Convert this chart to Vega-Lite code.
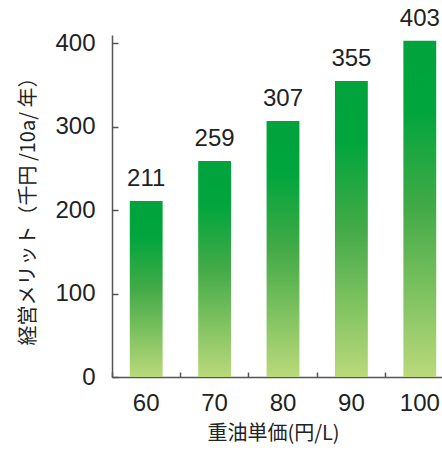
{
  "$schema": "https://vega.github.io/schema/vega-lite/v6.json",
  "autosize": {"type": "none"},
  "padding": {"left": 112, "top": 35, "right": 0, "bottom": 73},
  "width": 330,
  "height": 342,
  "background": "white",
  "config": {
    "view": {"stroke": null},
    "font": "Liberation Sans",
    "axis": {"grid": false, "domainColor": "#555555", "domainWidth": 1.5, "tickColor": "#555555", "tickWidth": 1.5, "labelColor": "#222222", "titleColor": "#222222", "labelFontWeight": "normal", "titleFontWeight": "normal"}
  },
  "data": {
    "values": [
      {"price": "60", "merit": 211},
      {"price": "70", "merit": 259},
      {"price": "80", "merit": 307},
      {"price": "90", "merit": 355},
      {"price": "100", "merit": 403}
    ]
  },
  "encoding": {
    "x": {
      "field": "price", "type": "nominal", "sort": null,
      "scale": {"range": [0, 342], "paddingInner": 0, "paddingOuter": 0},
      "axis": {"title": "重油単価(円/L)", "labelAngle": 0, "labelFontSize": 24, "labelPadding": 19, "bandPosition": 0, "tickSize": -5, "titleFontSize": 20, "titlePadding": 8, "titleX": 161, "titleFont": "Noto Sans CJK JP"}
    },
    "y": {
      "field": "merit", "type": "quantitative",
      "scale": {"domain": [0, 410], "nice": false},
      "axis": {"title": "経営メリット（千円 /10a/ 年）", "values": [0, 100, 200, 300, 400], "labelFontSize": 24, "labelPadding": 23, "tickSize": -6, "titleFontSize": 20, "titlePadding": 16, "titleFont": "Noto Sans CJK JP"}
    }
  },
  "layer": [
    {
      "mark": {
        "type": "bar",
        "width": {"band": 0.48},
        "color": {"gradient": "linear", "x1": 0, "y1": 0, "x2": 0, "y2": 1,
          "stops": [
            {"offset": 0, "color": "#00a33c"},
            {"offset": 0.2, "color": "#00a53d"},
            {"offset": 0.5, "color": "#43aa47"},
            {"offset": 1, "color": "#bad97a"}
          ]}
      }
    },
    {
      "mark": {"type": "text", "baseline": "bottom", "dy": -10, "fontSize": 24, "color": "#222222"},
      "encoding": {"text": {"field": "merit", "type": "quantitative"}}
    }
  ]
}
